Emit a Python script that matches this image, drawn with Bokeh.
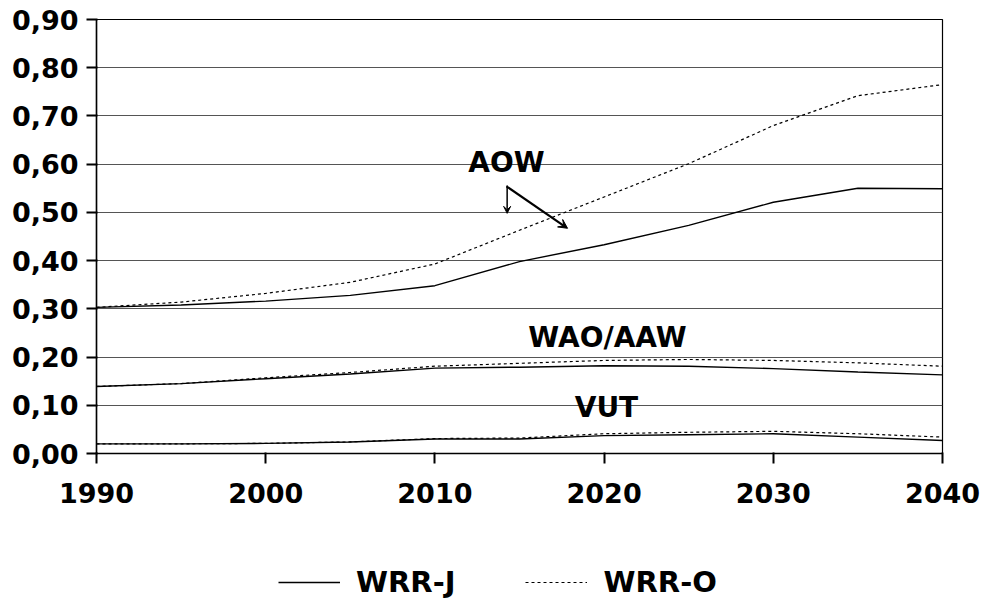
from bokeh.plotting import figure
from bokeh.layouts import column
from bokeh.models import Legend, LegendItem, Label, Arrow, VeeHead, FixedTicker, Range1d
from bokeh.embed import file_html
from bokeh.resources import INLINE

years = [1990, 1995, 2000, 2005, 2010, 2015, 2020, 2025, 2030, 2035, 2040]
aow_j = [0.303, 0.308, 0.316, 0.328, 0.348, 0.398, 0.433, 0.473, 0.521, 0.550, 0.549]
aow_o = [0.303, 0.314, 0.332, 0.355, 0.393, 0.463, 0.532, 0.601, 0.680, 0.742, 0.765]
wao_j = [0.139, 0.145, 0.155, 0.165, 0.177, 0.179, 0.182, 0.181, 0.176, 0.169, 0.163]
wao_o = [0.139, 0.145, 0.157, 0.168, 0.181, 0.187, 0.193, 0.195, 0.193, 0.188, 0.181]
vut_j = [0.020, 0.020, 0.021, 0.024, 0.030, 0.030, 0.037, 0.039, 0.041, 0.034, 0.027]
vut_o = [0.020, 0.020, 0.021, 0.024, 0.031, 0.032, 0.041, 0.044, 0.046, 0.041, 0.034]

x_ticks = [1990, 2000, 2010, 2020, 2030, 2040]
y_ticks = [0.0, 0.1, 0.2, 0.3, 0.4, 0.5, 0.6, 0.7, 0.8, 0.9]
y_tick_labels = ["0,00", "0,10", "0,20", "0,30", "0,40", "0,50", "0,60", "0,70", "0,80", "0,90"]
series_names = ["WRR-J", "WRR-O"]

FONT = "DejaVu Sans"
W = 985
BL, BR = 96, W - 942

p = figure(width=W, height=512, output_backend="svg", toolbar_location=None,
           x_range=Range1d(1990, 2040), y_range=Range1d(0, 0.9),
           min_border_left=BL, min_border_top=19, min_border_right=BR, min_border_bottom=59)
p.background_fill_color = "white"
p.border_fill_color = "white"
p.outline_line_color = "black"
p.outline_line_width = 1.2

p.xgrid.visible = False
p.ygrid.grid_line_color = "#555555"
p.ygrid.grid_line_width = 1
p.ygrid.ticker = FixedTicker(ticks=y_ticks)

p.xaxis.ticker = FixedTicker(ticks=x_ticks, minor_ticks=[])
p.yaxis.ticker = FixedTicker(ticks=y_ticks, minor_ticks=[])
p.yaxis.major_label_overrides = {t: s for t, s in zip(y_ticks, y_tick_labels)}
for ax in (p.xaxis[0], p.yaxis[0]):
    ax.major_label_text_font = FONT
    ax.major_label_text_font_size = "27px"
    ax.major_label_text_font_style = "bold"
    ax.major_label_text_color = "black"
    ax.axis_line_color = "black"
    ax.axis_line_width = 1.5
    ax.major_tick_line_color = "black"
    ax.major_tick_line_width = 2
    ax.major_tick_line_alpha = 1.0
    ax.major_tick_in = 1
    ax.major_tick_out = 10
    ax.minor_tick_line_color = None
    ax.minor_tick_in = 0
    ax.minor_tick_out = 0
p.xaxis[0].major_label_standoff = 19
p.yaxis[0].major_label_standoff = 8

solid = dict(line_color="black", line_width=1.4)
dashed = dict(line_color="black", line_width=1.2, line_dash="3 3")

p.line(years, aow_j, **solid)
p.line(years, aow_o, **dashed)
p.line(years, wao_j, **solid)
p.line(years, wao_o, **dashed)
p.line(years, vut_j, **solid)
p.line(years, vut_o, **dashed)

for txt, x, y in [("AOW", 2014.23, 0.603), ("WAO/AAW", 2020.2, 0.2405), ("VUT", 2020.14, 0.0954)]:
    p.add_layout(Label(x=x, y=y, text=txt, text_font=FONT, text_font_size="28px",
                       text_font_style="bold",
                       text_align="center", text_baseline="middle", text_color="black"))

p.add_layout(Arrow(x_start=2014.27, y_start=0.556, x_end=2014.27, y_end=0.498,
                   line_color="black", line_width=1.5,
                   end=VeeHead(size=7, fill_color="black", line_color="black")))
p.add_layout(Arrow(x_start=2014.23, y_start=0.554, x_end=2017.84, y_end=0.467,
                   line_color="black", line_width=2.2,
                   end=VeeHead(size=9, fill_color="black", line_color="black")))

# legend strip below the chart
lf = figure(width=W, height=88, output_backend="svg", toolbar_location=None,
            x_range=Range1d(0, 1), y_range=Range1d(0, 1),
            x_axis_type=None, y_axis_type=None,
            min_border_left=BL, min_border_right=BR, min_border_top=0, min_border_bottom=0)
lf.grid.visible = False
lf.outline_line_color = None
lf.background_fill_alpha = 0
lj = lf.line([-2, -1], [-2, -1], **solid)
lo = lf.line([-2, -1], [-2, -1], **dashed)
legend = Legend(items=[LegendItem(label=series_names[0], renderers=[lj]),
                       LegendItem(label=series_names[1], renderers=[lo])],
                orientation="horizontal", location=(182, 1),
                glyph_width=62, glyph_height=34, label_height=34, label_standoff=16, spacing=70,
                padding=0, margin=0, border_line_alpha=0, background_fill_alpha=0,
                label_text_font=FONT, label_text_font_size="29px", label_text_font_style="bold",
                label_text_color="black")
lf.add_layout(legend, "center")

layout = column(p, lf, spacing=0)
open("out.html", "w").write(file_html(layout, INLINE))
